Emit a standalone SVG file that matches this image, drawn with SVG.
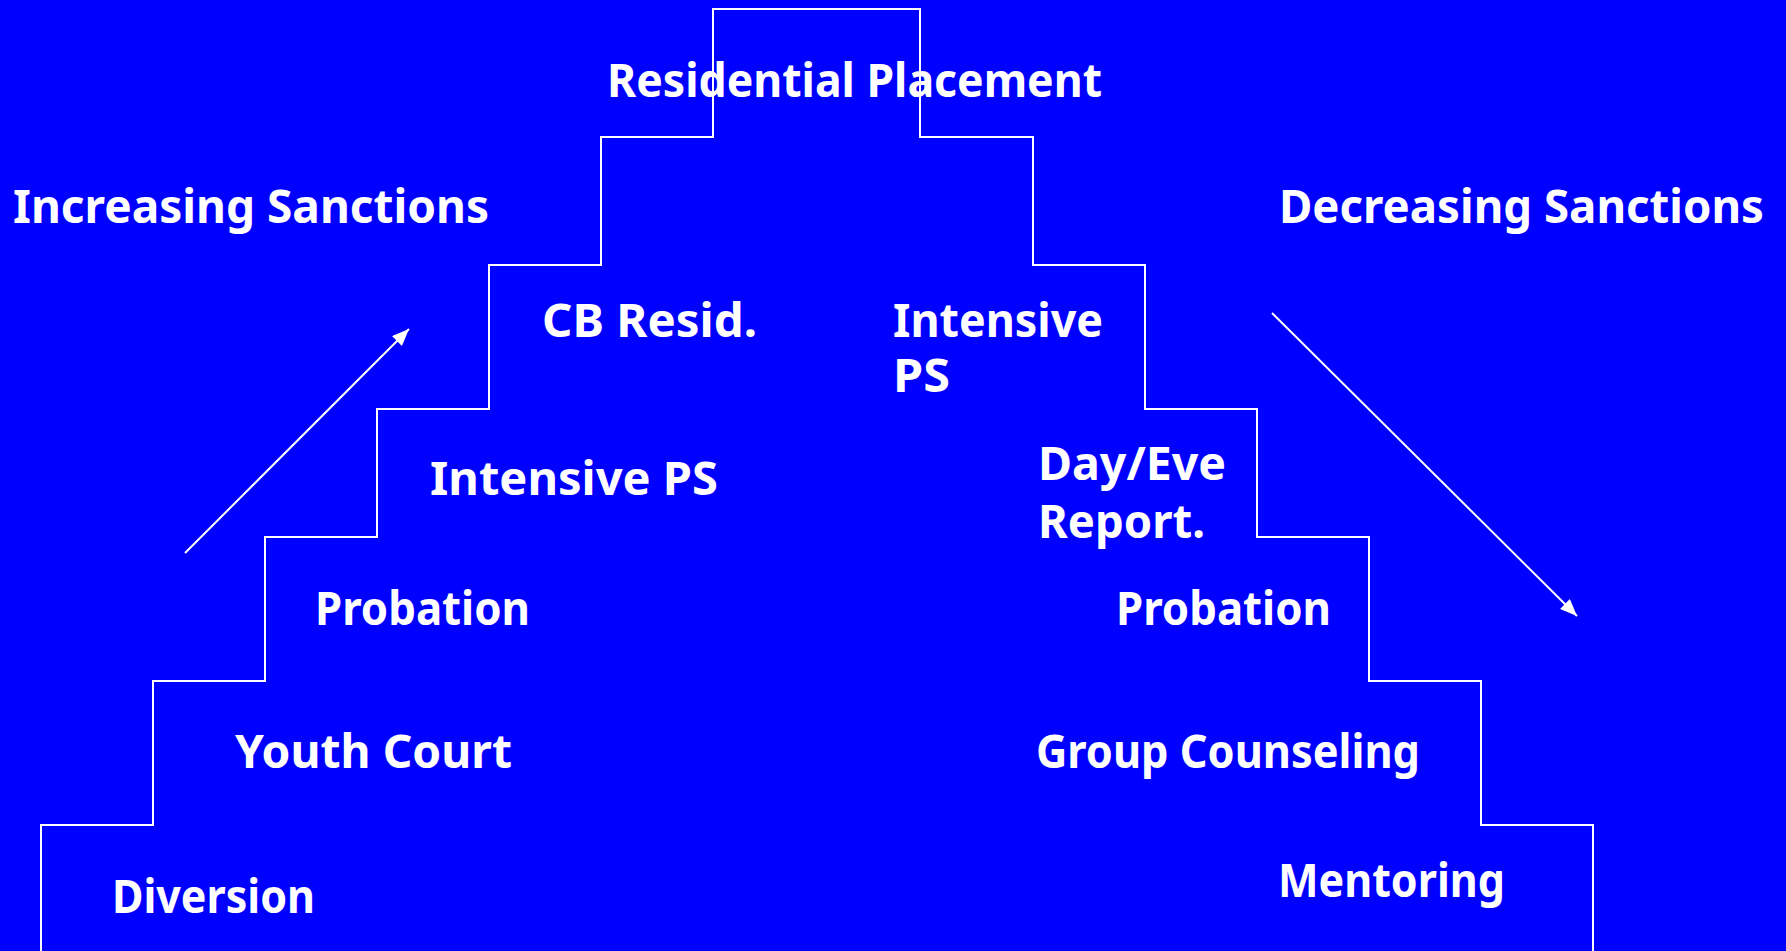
<svg xmlns="http://www.w3.org/2000/svg" width="1786" height="951" viewBox="0 0 1786 951">
  <style>
    .lbl { font-family: "Noto Sans", "DejaVu Sans", sans-serif; font-weight: bold; font-size: 47px; fill: #ffffff; }
    .stair { fill: none; stroke: #ffffff; stroke-width: 2; }
    .arrow { fill: none; stroke: #ffffff; stroke-width: 2; marker-end: url(#head); }
  </style>
  <defs>
    <marker id="head" markerUnits="userSpaceOnUse" markerWidth="18" markerHeight="14" refX="17" refY="7" orient="auto">
      <path d="M0,0 L17,7 L0,14 Z" fill="#ffffff"/>
    </marker>
  </defs>
  <rect x="0" y="0" width="1786" height="951" fill="#0000ff"/>

  <g id="staircase">
    <polyline class="stair" points="41,955 41,825 153,825 153,681 265,681 265,537 377,537 377,409 489,409 489,265 601,265 601,137 713,137 713,9 920,9 920,137 1033,137 1033,265 1145,265 1145,409 1257,409 1257,537 1369,537 1369,681 1481,681 1481,825 1593,825 1593,955"/>
  </g>

  <g id="connectors">
    <line class="arrow" x1="185" y1="553" x2="409" y2="329"/>
    <line class="arrow" x1="1272" y1="313" x2="1577" y2="616"/>
  </g>

  <g id="residential-placement"><text class="lbl" x="607" y="97" textLength="495" lengthAdjust="spacingAndGlyphs">Residential Placement</text></g>
  <g id="increasing-sanctions"><text class="lbl" x="13" y="223" textLength="476" lengthAdjust="spacingAndGlyphs">Increasing Sanctions</text></g>
  <g id="decreasing-sanctions"><text class="lbl" x="1279" y="223" textLength="485" lengthAdjust="spacingAndGlyphs">Decreasing Sanctions</text></g>
  <g id="cb-resid"><text class="lbl" x="542" y="337" textLength="215" lengthAdjust="spacingAndGlyphs">CB Resid.</text></g>
  <g id="intensive-ps-right">
    <text class="lbl" x="893" y="337" textLength="210" lengthAdjust="spacingAndGlyphs">Intensive</text>
    <text class="lbl" x="893" y="392" textLength="57" lengthAdjust="spacingAndGlyphs">PS</text>
  </g>
  <g id="intensive-ps-left"><text class="lbl" x="430" y="495" textLength="288" lengthAdjust="spacingAndGlyphs">Intensive PS</text></g>
  <g id="day-eve-report">
    <text class="lbl" x="1038" y="480" textLength="188" lengthAdjust="spacingAndGlyphs">Day/Eve</text>
    <text class="lbl" x="1038" y="538" textLength="167" lengthAdjust="spacingAndGlyphs">Report.</text>
  </g>
  <g id="probation-left"><text class="lbl" x="315" y="625" textLength="215" lengthAdjust="spacingAndGlyphs">Probation</text></g>
  <g id="probation-right"><text class="lbl" x="1116" y="625" textLength="215" lengthAdjust="spacingAndGlyphs">Probation</text></g>
  <g id="youth-court"><text class="lbl" x="235" y="768" textLength="277" lengthAdjust="spacingAndGlyphs">Youth Court</text></g>
  <g id="group-counseling"><text class="lbl" x="1036" y="768" textLength="384" lengthAdjust="spacingAndGlyphs">Group Counseling</text></g>
  <g id="diversion"><text class="lbl" x="112" y="913" textLength="203" lengthAdjust="spacingAndGlyphs">Diversion</text></g>
  <g id="mentoring"><text class="lbl" x="1278" y="897" textLength="227" lengthAdjust="spacingAndGlyphs">Mentoring</text></g>
</svg>
